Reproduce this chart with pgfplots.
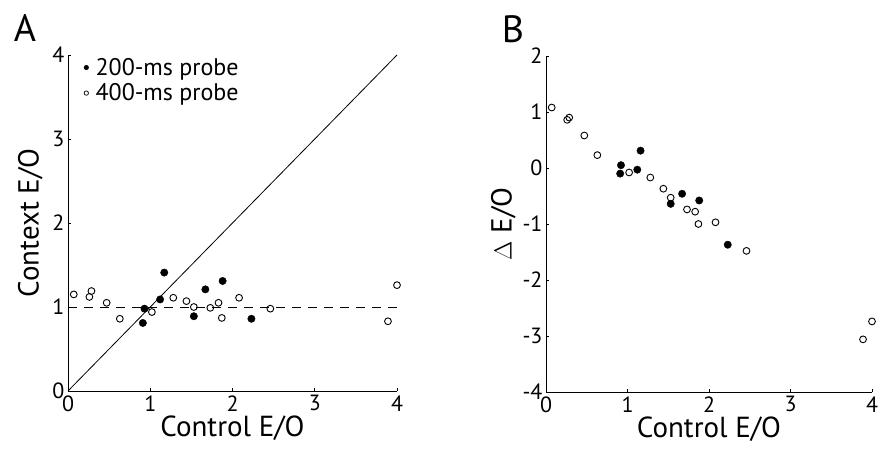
\documentclass[border=0pt]{standalone}
\usepackage{fontspec}
\setmainfont{PT Sans}
\usepackage{pgfplots}
\usepackage{pgfplotstable}
\pgfplotsset{compat=1.18}

% Panel A: 200-ms probe (filled)
\pgfplotstableread{
x y
1.17 1.41
1.12 1.09
0.93 0.98
0.91 0.81
1.67 1.21
1.88 1.31
1.53 0.89
2.23 0.86
}\Afill
% Panel A: 400-ms probe (open)
\pgfplotstableread{
x y
0.07 1.15
0.26 1.12
0.285 1.19
0.47 1.05
0.63 0.86
1.02 0.94
1.28 1.11
1.44 1.07
1.53 1.00
1.73 0.99
1.83 1.05
1.87 0.87
2.08 1.11
2.46 0.98
3.89 0.83
4.00 1.26
}\Aopen
% Panel B: 200-ms probe (filled)
\pgfplotstableread{
x y
1.16 0.31
1.12 -0.03
0.92 0.05
0.91 -0.10
1.67 -0.46
1.88 -0.58
1.53 -0.64
2.23 -1.37
}\Bfill
% Panel B: 400-ms probe (open)
\pgfplotstableread{
x y
0.07 1.08
0.26 0.86
0.285 0.90
0.47 0.58
0.63 0.23
1.02 -0.08
1.28 -0.17
1.44 -0.37
1.53 -0.53
1.73 -0.74
1.83 -0.78
1.87 -1.00
2.08 -0.97
2.46 -1.48
3.89 -3.06
4.00 -2.74
}\Bopen

\pgfplotsset{
  myaxis/.style={
    scale only axis,
    axis lines=left,
    axis line style={-, line width=0.8pt},
    xmin=0, xmax=4,
    xtick={0,1,2,3,4},
    tick align=inside,
    major tick length=3pt,
    tick style={black, line width=0.6pt},
    /pgf/number format/assume math mode=true,
    ticklabel style={font=\fontsize{22}{25}\selectfont},
    label style={font=\fontsize{29}{32}\selectfont},
    xticklabel style={yshift=-1pt},
    clip=false,
  },
  filled/.style={only marks, mark=*, mark size=3.7pt, black, mark options={fill=black}},
  hollow/.style={only marks, mark=o, mark size=3.4pt, black, mark options={line width=0.9pt, fill=white}},
}

\begin{document}
\begin{tikzpicture}
\path[use as bounding box] (0pt,0pt) rectangle (878pt,455pt);

\begin{axis}[myaxis,
  at={(68pt,64pt)}, anchor=south west,
  width=329pt, height=336pt,
  ymin=0, ymax=4, ytick={0,1,2,3,4},
  xlabel={Control E/O}, ylabel={Context E/O},
  xlabel style={yshift=2pt},
  ylabel style={yshift=3pt},
  legend style={draw=none, fill=none, at={(rel axis cs:0.045,1.0)}, anchor=north west,
    font=\fontsize{24}{27}\selectfont, row sep=3pt, inner sep=1pt},
  legend cell align=left,
]
\addlegendimage{only marks, mark=*, mark size=2.3pt, black}
\addlegendentry{\hspace{5pt}200-ms probe}
\addlegendimage{only marks, mark=o, mark size=2.2pt, black, mark options={line width=0.7pt}}
\addlegendentry{\hspace{5pt}400-ms probe}
\addplot[black, line width=0.8pt, forget plot] coordinates {(0,0) (4,4)};
\addplot[black, line width=0.8pt, dash pattern=on 9pt off 7pt, forget plot] coordinates {(0,1) (4,1)};
\addplot[filled, forget plot] table {\Afill};
\addplot[hollow, forget plot] table {\Aopen};
\end{axis}

\begin{axis}[myaxis,
  at={(546pt,63pt)}, anchor=south west,
  width=326pt, height=336pt,
  ymin=-4, ymax=2, ytick={-4,-3,-2,-1,0,1,2},
  xlabel={Control E/O}, ylabel={$\Delta$ E/O},
  xlabel style={yshift=2pt},
  ylabel style={yshift=0pt},
]
\addplot[filled] table {\Bfill};
\addplot[hollow] table {\Bopen};
\end{axis}

\node[font=\fontsize{38}{42}\selectfont, anchor=center] at (25pt,427pt) {A};
\node[font=\fontsize{38}{42}\selectfont, anchor=center] at (513pt,426pt) {B};
\end{tikzpicture}
\end{document}
